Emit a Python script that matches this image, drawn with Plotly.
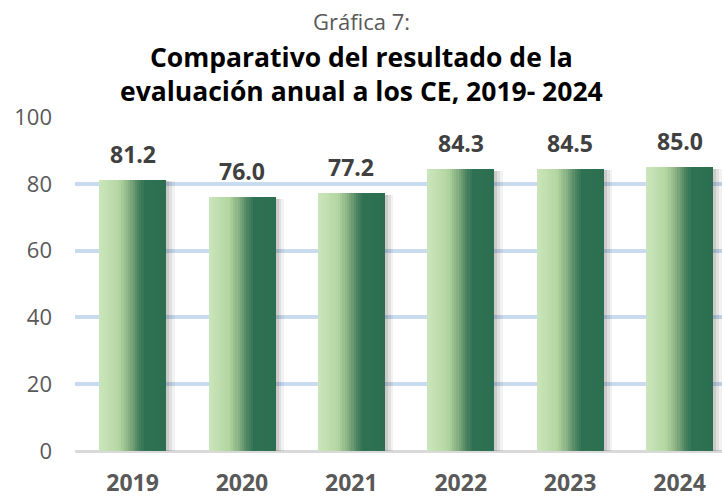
import plotly.graph_objects as go

years = ["2019", "2020", "2021", "2022", "2023", "2024"]
values = [81.2, 76.0, 77.2, 84.3, 84.5, 85.0]
labels = ["81.2", "76.0", "77.2", "84.3", "84.5", "85.0"]
y_ticks = [0, 20, 40, 60, 80, 100]

FONT = "Open Sans"
BAR_W = 0.61
N = 30

def lerp(c1, c2, t):
    return tuple(round(a + (b - a) * t) for a, b in zip(c1, c2))

stops = [(0.0, (203, 230, 188)), (0.3, (180, 214, 162)), (0.45, (135, 175, 130)),
         (0.58, (78, 134, 98)), (0.68, (46, 113, 82)), (1.0, (45, 110, 80))]

def grad(t):
    for (p0, c0), (p1, c1) in zip(stops[:-1], stops[1:]):
        if p0 <= t <= p1:
            return lerp(c0, c1, (t - p0) / (p1 - p0))
    return stops[-1][1]

xs = list(range(len(years)))
fig = go.Figure()

# soft shadow layers
for dx, extra, a in [(0.06, 0.02, 0.05), (0.045, 0.01, 0.07), (0.03, 0.0, 0.09)]:
    fig.add_trace(go.Bar(x=xs, y=[v + 0.3 for v in values], base=[-0.8] * len(values),
                         width=BAR_W + extra, offset=-BAR_W / 2 + dx,
                         marker=dict(color=f"rgba(0,0,0,{a})", line_width=0),
                         hoverinfo="skip", showlegend=False))

sw = BAR_W / N
for i in range(N):
    c = grad((i + 0.5) / N)
    fig.add_trace(go.Bar(x=xs, y=values, width=sw * 1.15, offset=-BAR_W / 2 + i * sw,
                         marker=dict(color=f"rgb{c}", line_width=0),
                         hoverinfo="skip", showlegend=False))

for i, (v, lab) in enumerate(zip(values, labels)):
    fig.add_annotation(x=i, y=v, text=f"<b>{lab}</b>", showarrow=False,
                       yanchor="bottom", yshift=8,
                       font=dict(family=FONT, size=23, color="#404040"))

fig.add_annotation(xref="paper", yref="paper", x=0.443, y=1, yshift=96, text="Gráfica 7:",
                   showarrow=False, xanchor="center", yanchor="middle",
                   font=dict(family=FONT, size=22, color="#595959"))
fig.add_annotation(xref="paper", yref="paper", x=0.443, y=1, yshift=43,
                   text="<b>Comparativo del resultado de la<br>evaluación anual a los CE, 2019- 2024</b>",
                   showarrow=False, xanchor="center", yanchor="middle", align="center",
                   font=dict(family=FONT, size=26.5, color="#000000"))

fig.update_layout(
    width=722, height=497,
    margin=dict(l=75, r=0, t=117, b=46, autoexpand=False),
    paper_bgcolor="white", plot_bgcolor="white",
    barmode="overlay", bargap=0,
    xaxis=dict(tickmode="array", tickvals=xs, ticktext=[f"<b>{y}</b>" for y in years],
               range=[-0.526, 5.388], showgrid=False, zeroline=False, showline=False,
               ticks="", tickfont=dict(family=FONT, size=23, color="#595959"),
               ticklabelstandoff=16, automargin=False),
    yaxis=dict(range=[0, 100], tickvals=y_ticks, showgrid=True, gridcolor="#c9dbef", gridwidth=4,
               zeroline=True, zerolinecolor="#d9d9d9", zerolinewidth=3,
               ticks="", tickfont=dict(family=FONT, size=22, color="#595959"),
               ticklabelstandoff=22, automargin=False, fixedrange=True),
)

fig.write_html("out.html", config={"displayModeBar": False},
               post_script="document.body.style.margin='0';document.body.style.overflow='hidden';")
